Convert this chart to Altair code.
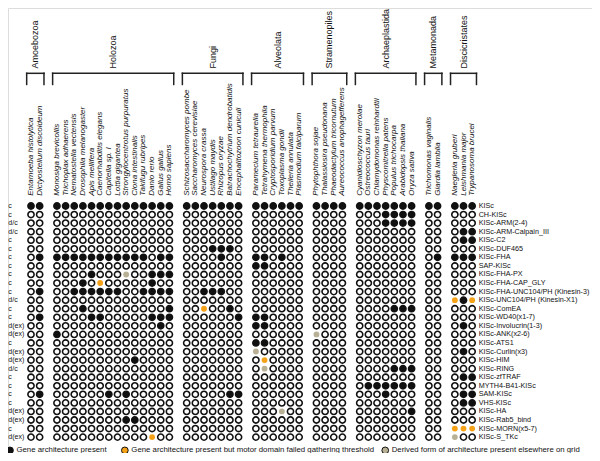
import altair as alt
import pandas as pd

# ---------------- data ----------------
group_names = ["Amoebozoa", "Holozoa", "Fungi", "Alveolata", "Stramenopiles",
               "Archaeplastida", "Metamonada", "Discicristates"]
amoebozoa = ["Entamoeba histolytica", "Dictyostelium discoideum"]
holozoa = ["Monosiga brevicollis", "Trichoplax adhaerens", "Nematostella vectensis",
           "Drosophila melanogaster", "Apis mellifera", "Caenorhabditis elegans",
           "Capitella sp. I", "Lottia gigantea", "Strongylocentrotus purpuratus",
           "Ciona intestinalis", "Takifugu rubripes", "Danio rerio", "Gallus gallus",
           "Homo sapiens"]
fungi = ["Schizosaccharomyces pombe", "Saccharomyces cerevisiae", "Neurospora crassa",
         "Ustilago maydis", "Rhizopus oryzae", "Batrachochytrium dendrobatidis",
         "Encephalitozoon cuniculi"]
alveolata = ["Paramecium tetraurelia", "Tetrahymena thermophila", "Cryptosporidium parvum",
             "Toxoplasma gondii", "Theileria annulata", "Plasmodium falciparum"]
stramenopiles = ["Phytophthora sojae", "Thalassiosira pseudonana",
                 "Phaeodactylum tricornutum", "Aureococcus anophagefferens"]
archaeplastida = ["Cyanidioschyzon merolae", "Ostreococcus tauri",
                  "Chlamydomonas reinhardtii", "Physcomitrella patens",
                  "Populus trichocarpa", "Arabidopsis thaliana", "Oryza sativa"]
metamonada = ["Trichomonas vaginalis", "Giardia lamblia"]
discicristates = ["Naegleria gruberi", "Leishmania major", "Trypanosoma brucei"]
group_species = [amoebozoa, holozoa, fungi, alveolata, stramenopiles,
                 archaeplastida, metamonada, discicristates]

architectures = ["KISc", "CH-KISc", "KISc-ARM(2-4)", "KISc-ARM-Calpain_III", "KISc-C2",
                 "KISc-DUF465", "KISc-FHA", "SAP-KISc", "KISc-FHA-PX", "KISc-FHA-CAP_GLY",
                 "KISc-FHA-UNC104/PH (Kinesin-3)", "KISc-UNC104/PH (Kinesin-X1)",
                 "KISc-ComEA", "KISc-WD40(x1-7)", "KISc-Involucrin(1-3)", "KISc-ANK(x2-6)",
                 "KISc-ATS1", "KISc-Curlin(x3)", "KISc-HIM", "KISc-RING", "KISc-zfTRAF",
                 "MYTH4-B41-KISc", "SAM-KISc", "VHS-KISc", "KISc-HA", "KISc-Rab5_bind",
                 "KISc-MORN(x5-7)", "KISc-S_TKc"]
origin = ["c", "c", "d/c", "d/c", "c", "c", "c", "c", "c", "c", "c", "d/c", "c", "c",
          "d(ex)", "d(ex)", "c", "d(ex)", "d(ex)", "d/c", "c", "c", "c", "c",
          "d(ex)", "d(ex)", "c", "d(ex)"]

# 1 = present, 0 = absent, o = present but motor domain failed threshold, d = derived form
# groups: Amoebozoa | Holozoa | Fungi | Alveolata | Stramenopiles | Archaeplastida | Metamonada | Discicristates
presence = [
    "11 11111111111111 1111111 111111 1111 1111111 11 111",  # KISc
    "00 00000000000000 0000000 000000 0000 0001111 00 000",  # CH-KISc
    "00 00000000000000 0000000 000000 0000 0001111 00 000",  # ARM(2-4)
    "00 00000000000000 0000000 000000 0000 0000000 00 011",  # ARM-Calpain_III
    "00 00000000000000 0000000 000000 0000 0000000 00 011",  # C2
    "00 00000000000000 0001110 000000 0000 0000000 00 000",  # DUF465
    "01 11111111111011 0000100 110100 0000 0000000 01 111",  # FHA
    "00 00000000000000 0000000 110000 0000 0000000 00 000",  # SAP
    "00 00001000d00111 0000000 000000 0000 0000000 00 000",  # FHA-PX
    "00 00010o00000100 0000000 000000 0000 0000000 00 000",  # FHA-CAP_GLY
    "01 00111111001111 0011100 000000 0000 0000000 00 000",  # Kinesin-3
    "00 00000000000000 0000000 000000 0000 0000000 00 o1o",  # Kinesin-X1
    "00 00010000000001 00o0010 000000 0000 0000111 00 000",  # ComEA
    "01 00001100000111 0000001 110000 0000 0000000 00 000",  # WD40
    "00 00000000000010 0000000 110000 0000 0000000 00 010",  # Involucrin
    "00 10000000000000 0000000 000000 d000 0000000 00 000",  # ANK
    "00 00000000000000 0000000 110000 0000 0000000 00 000",  # ATS1
    "00 00000000000000 0000000 d00000 0000 0000000 00 010",  # Curlin
    "00 00000000010000 0000000 0o0000 0000 0000000 00 000",  # HIM
    "00 00000000000000 0000000 0d0000 0000 0000111 00 000",  # RING
    "00 00000000000000 0000000 000000 0000 0000000 00 011",  # zfTRAF
    "00 00000000000000 0000000 000000 0000 0111111 00 000",  # MYTH4-B41
    "01 00000010100000 0000011 000000 0000 0001000 00 011",  # SAM
    "00 00000000000000 0000000 000000 0000 0000000 00 011",  # VHS
    "00 00000000000000 0000000 000d00 0000 0000001 00 000",  # HA
    "00 00000000110000 0000000 000000 0000 0000000 00 000",  # Rab5_bind
    "00 00000000000000 0000000 000000 0000 0000000 00 ooo",  # MORN
    "00 00000000000o00 0000000 000000 0000 0000000 00 d00",  # S_TKc
]

legend_labels = ["Gene architecture present",
                 "Gene architecture present but motor domain failed gathering threshold",
                 "Derived form of architecture present elsewhere on grid"]
legend_states = ["1", "o", "d"]

# ---------------- layout helpers ----------------
FONT = "Liberation Sans"
W, H = 584, 445
xs = alt.Scale(domain=[-2.659, 64.855], nice=False, zero=False)
ys = alt.Scale(domain=[-23.13, 28.855], nice=False, zero=False, reverse=True)

cells, species_rows, group_rows, bracket_rows = [], [], [], []
slot = 0
for g, (gname, sp_list) in enumerate(zip(group_names, group_species)):
    first = slot
    for sp in sp_list:
        species_rows.append({"slot": slot, "name": sp})
        slot += 1
    last = slot - 1
    group_rows.append({"slot": (first + last) / 2, "name": gname})
    bracket_rows.append({"x": first - 0.5, "x2": last + 0.5, "y": -15.5, "y2": -15.5})
    bracket_rows.append({"x": first - 0.5, "x2": first - 0.5, "y": -15.5, "y2": -14.2})
    bracket_rows.append({"x": last + 0.5, "x2": last + 0.5, "y": -15.5, "y2": -14.2})
    slot += 1  # gap between groups

slots_flat = [r["slot"] for r in species_rows]
for i, row in enumerate(presence):
    states = row.replace(" ", "")
    for j, s in enumerate(states):
        cells.append({"slot": slots_flat[j], "row": i, "state": s})

cells = pd.DataFrame(cells)
species_df = pd.DataFrame(species_rows)
group_df = pd.DataFrame(group_rows)
bracket_df = pd.DataFrame(bracket_rows)
rows_df = pd.DataFrame({"row": list(range(len(architectures))),
                        "arch": architectures, "origin": origin})
legend_df = pd.DataFrame({"label": legend_labels, "state": legend_states,
                          "cx": [-2.43, 10.85, 40.95], "row": [28.55] * 3})
legend_df["tx"] = legend_df["cx"] + 0.75

X = lambda f: alt.X(f, type="quantitative", scale=xs, axis=None)
Y = lambda f: alt.Y(f, type="quantitative", scale=ys, axis=None)

base = alt.Chart(cells)
open_c = base.transform_filter("datum.state == '0'").mark_point(
    shape="circle", filled=False, stroke="#111111", strokeWidth=1.6, size=38, opacity=1
).encode(x=X("slot"), y=Y("row"))
full_c = base.transform_filter("datum.state == '1'").mark_point(
    shape="circle", filled=True, fill="#111111", stroke="#111111", strokeWidth=1.6,
    size=38, opacity=1
).encode(x=X("slot"), y=Y("row"))
orange_c = base.transform_filter("datum.state == 'o'").mark_circle(
    color="#f5a219", size=34, opacity=1
).encode(x=X("slot"), y=Y("row"))
derived_c = base.transform_filter("datum.state == 'd'").mark_circle(
    color="#b8b195", size=34, opacity=1
).encode(x=X("slot"), y=Y("row"))

species_t = alt.Chart(species_df).mark_text(
    angle=270, align="left", baseline="middle", font=FONT, fontSize=8,
    fontStyle="italic", color="#111111"
).encode(x=X("slot"), y=Y("y:Q"), text="name:N").transform_calculate(y="-1.2")

group_t = alt.Chart(group_df).mark_text(
    angle=270, align="left", baseline="middle", font=FONT, fontSize=9,
    color="#111111"
).encode(x=X("slot"), y=Y("y:Q"), text="name:N").transform_calculate(y="-16.05")

brackets = alt.Chart(bracket_df).mark_rule(
    color="#222222", strokeWidth=1.5, strokeCap="square"
).encode(x=X("x"), x2="x2:Q", y=Y("y"), y2="y2:Q")

arch_t = alt.Chart(rows_df).mark_text(
    align="left", baseline="middle", font=FONT, fontSize=7.2, color="#111111"
).encode(x=X("x:Q"), y=Y("row"), text="arch:N").transform_calculate(x="51.75")

origin_t = alt.Chart(rows_df).mark_text(
    align="left", baseline="middle", font=FONT, fontSize=7, color="#111111"
).encode(x=X("x:Q"), y=Y("row"), text="origin:N").transform_calculate(x="-2.62")

legend_pts = alt.Chart(legend_df).mark_point(
    shape="circle", filled=True, stroke="#111111", strokeWidth=1, size=45, opacity=1
).encode(
    x=X("cx"), y=Y("row"),
    fill=alt.Fill("state:N", scale=alt.Scale(domain=["1", "o", "d"],
                                             range=["#111111", "#f5a219", "#b8b195"]),
                  legend=None),
)
legend_t = alt.Chart(legend_df).mark_text(
    align="left", baseline="middle", font=FONT, fontSize=7.8, color="#111111"
).encode(x=X("tx"), y=Y("row"), text="label:N")

chart = alt.layer(
    brackets, group_t, species_t, open_c, full_c, orange_c, derived_c,
    arch_t, origin_t, legend_pts, legend_t
).properties(
    width=W, height=H, padding=0,
    autosize=alt.AutoSizeParams(type="none")
).configure_view(stroke=None).configure(background="white")

chart.save("out.html", embed_options={"renderer": "svg", "actions": False})
